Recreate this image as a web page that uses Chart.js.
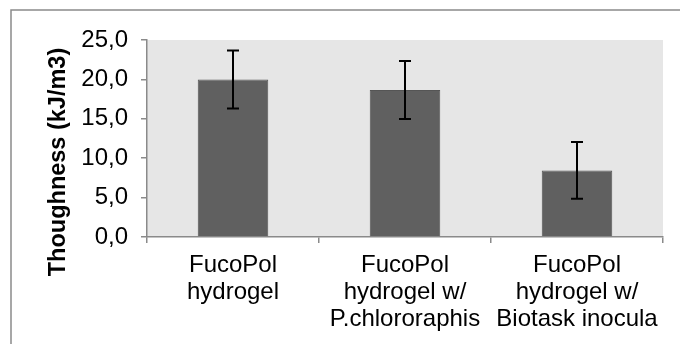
<!DOCTYPE html>
<html>
<head>
<meta charset="utf-8">
<script src="https://cdn.jsdelivr.net/npm/chart.js@4/dist/chart.umd.min.js"></script>
<style>
  html, body { margin: 0; padding: 0; background: #fff; }
  #grafica { display: block; }
</style>
</head>
<body>
<canvas id="grafica" width="680" height="344"></canvas>
<script>
// Datos del gráfico
const categorias = [
    ["FucoPol", "hydrogel"],
    ["FucoPol", "hydrogel w/", "P.chlororaphis"],
    ["FucoPol", "hydrogel w/", "Biotask inocula"]
];
const valores = [20.0, 18.65, 8.45];
const errores = [3.68, 3.68, 3.6];
const etiquetasY = ["0,0", "5,0", "10,0", "15,0", "20,0", "25,0"];
const tituloY = "Thoughness (kJ/m3)";

const gris = "#8a8a8a";

// Fondo del área de trazado, marco exterior y título del eje
const fondoPlugin = {
    id: "fondo",
    beforeDraw(chart) {
        const { ctx, chartArea } = chart;
        ctx.save();
        ctx.fillStyle = "#e6e6e6";
        ctx.fillRect(chartArea.left, chartArea.top, chartArea.right - chartArea.left, chartArea.bottom - chartArea.top);
        ctx.strokeStyle = gris;
        ctx.lineWidth = 1.5;
        ctx.strokeRect(11, 10, 700, 400);
        ctx.restore();
    },
    afterDraw(chart) {
        const { ctx } = chart;
        ctx.save();
        ctx.translate(59, 162);
        ctx.rotate(-Math.PI / 2);
        ctx.font = "bold 23.5px 'Liberation Sans', Arial, sans-serif";
        ctx.fillStyle = "#000";
        ctx.textAlign = "center";
        ctx.textBaseline = "middle";
        ctx.fillText(tituloY, 0, 0);
        ctx.restore();
    }
};

// Barras de error
const erroresPlugin = {
    id: "errores",
    afterDatasetsDraw(chart) {
        const { ctx } = chart;
        const yScale = chart.scales.y;
        const meta = chart.getDatasetMeta(0);
        ctx.save();
        ctx.strokeStyle = "#000";
        ctx.lineWidth = 2;
        meta.data.forEach(function (barra, i) {
            const x = Math.round(barra.x);
            const yAlto = yScale.getPixelForValue(valores[i] + errores[i]);
            const yBajo = yScale.getPixelForValue(valores[i] - errores[i]);
            ctx.beginPath();
            ctx.moveTo(x, yAlto);
            ctx.lineTo(x, yBajo);
            ctx.moveTo(x - 6, yAlto);
            ctx.lineTo(x + 6, yAlto);
            ctx.moveTo(x - 6, yBajo);
            ctx.lineTo(x + 6, yBajo);
            ctx.stroke();
        });
        ctx.restore();
    }
};

const ctxGrafica = document.getElementById("grafica").getContext("2d");
new Chart(ctxGrafica, {
    type: "bar",
    data: {
        labels: categorias,
        datasets: [{
            data: valores,
            backgroundColor: "#606060",
            borderColor: "#555555",
            borderWidth: 1,
            barPercentage: 0.41,
            categoryPercentage: 1
        }]
    },
    options: {
        responsive: false,
        animation: false,
        devicePixelRatio: 1,
        layout: { padding: { left: 0, top: 40, right: 17, bottom: 0 } },
        plugins: {
            legend: { display: false },
            tooltip: { enabled: false }
        },
        scales: {
            x: {
                afterFit(scale) { scale.height = 107; },
                grid: { drawOnChartArea: false, color: gris, tickLength: 6, lineWidth: 1.5 },
                border: { display: true, color: gris, width: 1.5 },
                ticks: {
                    color: "#000",
                    font: { family: "'Liberation Sans', Arial, sans-serif", size: 24, lineHeight: 1.12 },
                    maxRotation: 0,
                    autoSkip: false,
                    padding: 9
                }
            },
            y: {
                min: 0,
                max: 25,
                afterFit(scale) { scale.width = 147; },
                grid: { drawOnChartArea: false, color: gris, tickLength: 6, lineWidth: 1.5 },
                border: { display: true, color: gris, width: 1.5 },
                ticks: {
                    stepSize: 5,
                    color: "#000",
                    font: { family: "'Liberation Sans', Arial, sans-serif", size: 24 },
                    padding: 13,
                    callback: function (v, i) { return etiquetasY[i]; }
                }
            }
        }
    },
    plugins: [fondoPlugin, erroresPlugin]
});
</script>
</body>
</html>
